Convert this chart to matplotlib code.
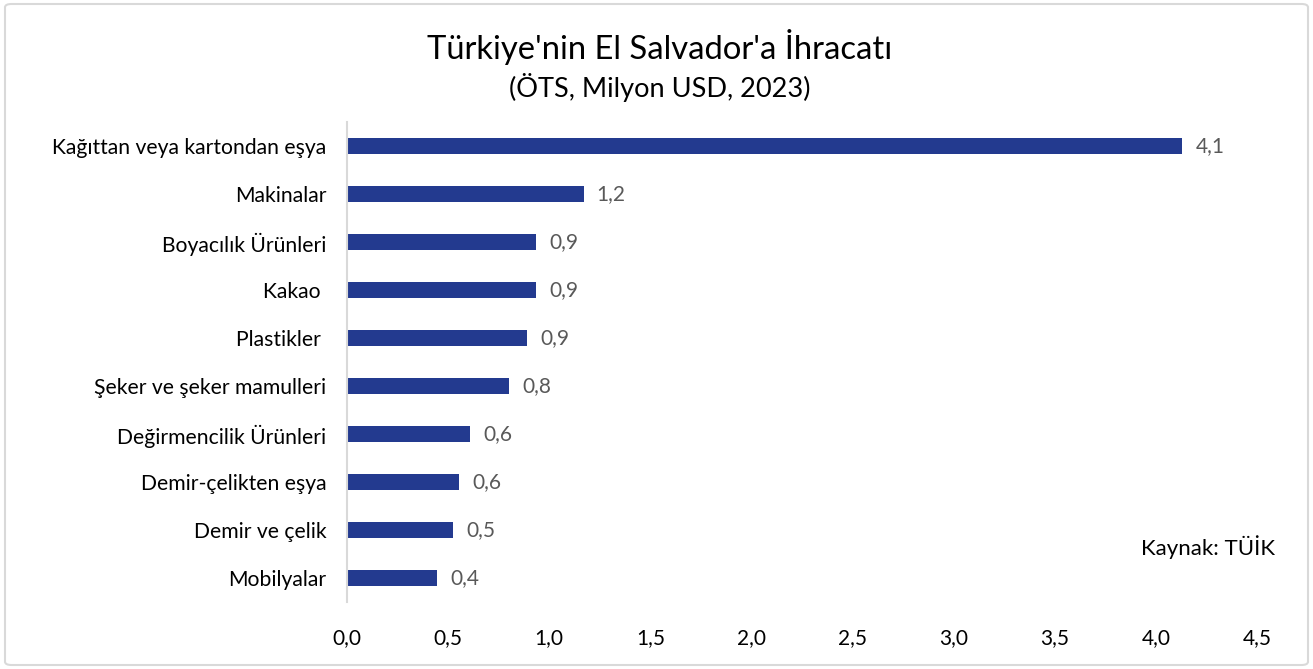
import matplotlib
matplotlib.use("Agg")
import matplotlib.pyplot as plt
from matplotlib.patches import FancyBboxPatch

categories = ["Kağıttan veya kartondan eşya", "Makinalar", "Boyacılık Ürünleri", "Kakao ",
              "Plastikler ", "Şeker ve şeker mamulleri", "Değirmencilik Ürünleri",
              "Demir-çelikten eşya", "Demir ve çelik", "Mobilyalar"]
values = [4.13, 1.17, 0.935, 0.935, 0.89, 0.80, 0.61, 0.554, 0.524, 0.445]
xticks = [0.0, 0.5, 1.0, 1.5, 2.0, 2.5, 3.0, 3.5, 4.0, 4.5]

plt.rcParams['font.family'] = ['Lato', 'DejaVu Sans']

fig = plt.figure(figsize=(13.13, 6.69), dpi=100)
ax = fig.add_axes([347/1313, 1-602/669, (1257-347)/1313, (602-122)/669])

y = list(range(len(categories)))
ax.barh(y, values, height=0.34, color="#233A8F")
ax.set_ylim(len(categories)-0.5, -0.5)
ax.set_xlim(0, 4.5)
ax.set_yticks(y)
ax.set_yticklabels(categories, fontsize=15.2, color="#000000")
ax.set_xticks(xticks)
ax.set_xticklabels([f"{t:.1f}".replace(".", ",") for t in xticks], fontsize=15, color="#000000")
ax.tick_params(axis='both', length=0)
ax.tick_params(axis='y', pad=15)
ax.tick_params(axis='x', pad=19)
for s in ["top", "right", "bottom"]:
    ax.spines[s].set_visible(False)
ax.spines["left"].set_color("#D9D9D9")
ax.spines["left"].set_linewidth(1.5)

for yi, v in zip(y, values):
    ax.text(v + 0.065, yi, f"{v:.1f}".replace(".", ","), va="center", ha="left",
            fontsize=15, color="#595959")

fig.text(660/1313, 1-47/669, "Türkiye'nin El Salvador'a İhracatı", ha="center", va="center",
         fontsize=23.6, color="#000000")
fig.text(660/1313, 1-87/669, "(ÖTS, Milyon USD, 2023)", ha="center", va="center",
         fontsize=19.5, color="#000000")
fig.text(1208/1313, 1-547/669, "Kaynak: TÜİK", ha="center", va="center",
         fontsize=16, color="#000000")

border = FancyBboxPatch((5/1313, 4/669), 1303/1313, 661/669,
                        boxstyle="round,pad=0,rounding_size=0.005",
                        transform=fig.transFigure, fill=False,
                        edgecolor="#D9D9D9", linewidth=1.5)
fig.patches.append(border)

fig.savefig("out.png", dpi=100)
